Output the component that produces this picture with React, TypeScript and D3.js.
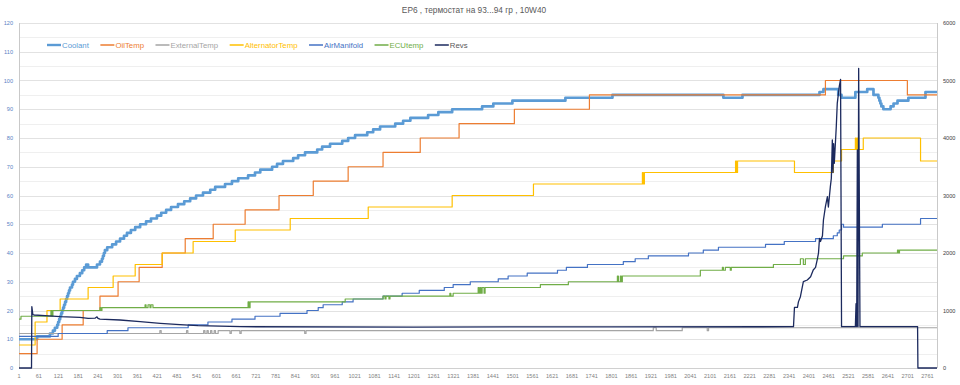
import { useEffect, useRef } from 'react'
import * as d3 from 'd3'

type Point = [number, number]

const WIDTH = 960
const HEIGHT = 385
const PLOT = { left: 19, right: 937, top: 23, bottom: 368 }
const SAMPLE_COUNT = 2790

const TITLE = 'EP6 , термостат на 93...94 гр , 10W40'

const TEMP_TICKS = [0, 10, 20, 30, 40, 50, 60, 70, 80, 90, 100, 110, 120]
const TEMP_GRID = [5, 15, 25, 35, 45, 55, 65, 75, 85, 95, 105, 115]
const REV_TICKS = [0, 1000, 2000, 3000, 4000, 5000, 6000]
const SAMPLE_TICKS = [
  1, 61, 121, 181, 241, 301, 361, 421, 481, 541, 601, 661, 721, 781, 841, 901,
  961, 1021, 1081, 1141, 1201, 1261, 1321, 1381, 1441, 1501, 1561, 1621, 1681,
  1741, 1801, 1861, 1921, 1981, 2041, 2101, 2161, 2221, 2281, 2341, 2401, 2461,
  2521, 2581, 2641, 2701, 2761,
]

// step series: [sample index where the value starts, value]
const coolant: Point[] = [
  [1, 10], [56, 11], [95, 12], [104, 13], [110, 14], [117, 15], [120, 16], [123, 17],
  [126, 18], [129, 19], [132, 20], [135, 21], [138, 22], [141, 23], [144, 24], [147, 25],
  [150, 26], [153, 27], [156, 28], [162, 29], [165, 30], [171, 31], [177, 32], [186, 33],
  [193, 34], [199, 35], [205, 36], [211, 35], [238, 36], [247, 37], [253, 38], [256, 39],
  [259, 40], [262, 41], [269, 42], [284, 43], [296, 44], [308, 45], [320, 46], [329, 47],
  [341, 48], [354, 49], [369, 50], [387, 51], [402, 52], [420, 53], [433, 54], [448, 55],
  [463, 56], [484, 57], [503, 58], [521, 59], [539, 60], [560, 61], [582, 62], [597, 63],
  [627, 64], [648, 65], [667, 66], [697, 67], [718, 68], [734, 69], [770, 70], [785, 71],
  [803, 72], [834, 73], [849, 74], [870, 75], [907, 76], [922, 77], [946, 78], [983, 79],
  [1001, 80], [1022, 81], [1059, 82], [1077, 83], [1098, 84], [1144, 85], [1168, 86],
  [1190, 87], [1244, 88], [1275, 89], [1317, 90], [1408, 91], [1442, 92], [1500, 93],
  [1661, 94], [1804, 95], [2141, 94], [2199, 95], [2433, 96], [2445, 97], [2490, 95],
  [2500, 94], [2542, 96], [2578, 97], [2597, 95], [2612, 94], [2615, 93], [2618, 92],
  [2621, 91], [2627, 90], [2649, 91], [2658, 92], [2670, 93], [2703, 94], [2755, 96],
]

const oilTemp: Point[] = [
  [1, 5], [56, 10], [132, 15], [196, 20], [247, 25], [302, 30], [366, 35], [436, 40],
  [506, 45], [591, 50], [688, 55], [791, 60], [895, 65], [1001, 70], [1107, 75],
  [1220, 80], [1338, 85], [1506, 90], [1734, 95], [2451, 100], [2700, 95],
]

const externalTemp: Point[] = [
  [1, 12], [429, 13], [433, 12], [510, 13], [514, 12], [562, 13], [566, 12], [572, 13],
  [576, 12], [583, 13], [587, 12], [594, 13], [598, 12], [606, 13], [642, 12], [646, 13],
  [672, 12], [676, 13], [869, 12], [873, 13], [1928, 14], [1937, 13], [2016, 14],
  [2092, 13], [2096, 14],
]

const alternatorTemp: Point[] = [
  [1, 8], [50, 16], [86, 20], [126, 24], [211, 28], [287, 32], [354, 36], [436, 40],
  [530, 44], [658, 48], [825, 52], [1062, 56], [1317, 60], [1564, 64], [1895, 68],
  [1898, 64], [1901, 68], [2178, 72], [2181, 68], [2184, 72], [2357, 68], [2475, 72],
  [2500, 76], [2542, 80], [2545, 76], [2548, 80], [2551, 76], [2566, 80], [2740, 72],
]

const airManifold: Point[] = [
  [1, 11], [120, 12], [269, 13], [332, 14], [515, 15], [575, 16], [648, 17], [718, 18],
  [794, 19], [876, 20], [910, 21], [925, 22], [983, 23], [1016, 24], [1107, 25],
  [1165, 26], [1217, 27], [1293, 28], [1320, 29], [1372, 30], [1457, 31], [1487, 32],
  [1545, 33], [1637, 34], [1664, 35], [1728, 36], [1837, 37], [1873, 38], [1913, 39],
  [2035, 40], [2080, 41], [2126, 42], [2269, 43], [2326, 44], [2421, 45], [2475, 46],
  [2487, 47], [2493, 48], [2500, 50], [2506, 49], [2624, 50], [2740, 52],
]

const ecuTemp: Point[] = [
  [1, 17], [7, 18], [98, 20], [101, 18], [104, 20], [247, 21], [250, 20], [253, 21],
  [384, 22], [387, 21], [393, 22], [399, 21], [402, 22], [408, 21], [697, 23], [700, 21],
  [703, 23], [992, 24], [1107, 25], [1113, 24], [1116, 25], [1125, 24], [1128, 25],
  [1310, 26], [1313, 25], [1320, 26], [1396, 28], [1399, 26], [1402, 28], [1405, 26],
  [1408, 28], [1414, 26], [1417, 28], [1585, 29], [1670, 30], [1819, 32], [1822, 30],
  [1828, 32], [1831, 30], [1834, 32], [2071, 34], [2138, 35], [2141, 34], [2147, 35],
  [2162, 34], [2165, 35], [2293, 36], [2375, 38], [2384, 36], [2390, 38], [2506, 39],
  [2563, 40], [2670, 41], [2673, 40], [2676, 41],
]

// revs: [sample index, rpm] joined point to point
const revs: Point[] = [
  [1, 0], [39, 0], [40, 1067], [43, 930], [47, 922], [80, 912], [126, 892], [186, 880],
  [211, 864], [232, 866], [238, 890], [241, 862], [247, 850], [308, 835], [369, 806],
  [430, 777], [490, 754], [545, 736], [673, 718], [1200, 712], [1800, 716], [2354, 718],
  [2357, 1055], [2366, 1055], [2369, 1150], [2375, 1240], [2384, 1501], [2396, 1530],
  [2406, 1588], [2414, 1704], [2421, 1750], [2427, 1907], [2430, 2000], [2433, 2255],
  [2436, 2200], [2442, 2300], [2445, 2574], [2451, 2806], [2457, 2980], [2460, 2800],
  [2466, 3154], [2469, 3300], [2472, 3965], [2474, 3400], [2476, 3900], [2478, 3560],
  [2484, 4197], [2487, 4603], [2493, 4893], [2497, 5020], [2500, 718], [2542, 718],
  [2544, 1117], [2546, 718], [2548, 3791], [2550, 718], [2552, 5212], [2556, 718],
  [2731, 718], [2732, 0], [2790, 0],
]

interface SeriesDef {
  name: string
  data: Point[]
  color: string
  width: number
  axis: 'temp' | 'revs'
  step: boolean
}

const SERIES: SeriesDef[] = [
  { name: 'Coolant', data: coolant, color: '#5b9bd5', width: 2.7, axis: 'temp', step: true },
  { name: 'OilTemp', data: oilTemp, color: '#ed7d31', width: 1.2, axis: 'temp', step: true },
  { name: 'ExternalTemp', data: externalTemp, color: '#a5a5a5', width: 1.2, axis: 'temp', step: true },
  { name: 'AlternatorTemp', data: alternatorTemp, color: '#ffc000', width: 1.2, axis: 'temp', step: true },
  { name: 'AirManifold', data: airManifold, color: '#4472c4', width: 1.2, axis: 'temp', step: true },
  { name: 'ECUtemp', data: ecuTemp, color: '#70ad47', width: 1.2, axis: 'temp', step: true },
  { name: 'Revs', data: revs, color: '#1c2a5e', width: 1.3, axis: 'revs', step: false },
]

const FONT = '"Liberation Sans", Arial, sans-serif'

export default function App() {
  const svgRef = useRef<SVGSVGElement | null>(null)

  useEffect(() => {
    if (!svgRef.current) {
      return
    }

    const svg = d3.select(svgRef.current)
    svg.selectAll('*').remove()

    const x = d3.scaleLinear().domain([1, SAMPLE_COUNT]).range([PLOT.left, PLOT.right])
    const yTemp = d3.scaleLinear().domain([0, 120]).range([PLOT.bottom, PLOT.top])
    const yRevs = d3.scaleLinear().domain([0, 6000]).range([PLOT.bottom, PLOT.top])

    svg.append('rect').attr('width', WIDTH).attr('height', HEIGHT).attr('fill', '#ffffff')

    // gridlines
    svg
      .append('g')
      .selectAll('line.minor')
      .data(TEMP_GRID)
      .enter()
      .append('line')
      .attr('x1', PLOT.left)
      .attr('x2', PLOT.right)
      .attr('y1', (d: number) => Math.round(yTemp(d)) + 0.5)
      .attr('y2', (d: number) => Math.round(yTemp(d)) + 0.5)
      .attr('stroke', '#efefef')

    svg
      .append('g')
      .selectAll('line.major')
      .data(TEMP_TICKS.filter((d) => d > 0))
      .enter()
      .append('line')
      .attr('x1', PLOT.left)
      .attr('x2', PLOT.right)
      .attr('y1', (d: number) => Math.round(yTemp(d)) + 0.5)
      .attr('y2', (d: number) => Math.round(yTemp(d)) + 0.5)
      .attr('stroke', '#e2e2e2')

    // axis lines
    svg
      .append('line')
      .attr('x1', PLOT.left + 0.5)
      .attr('x2', PLOT.left + 0.5)
      .attr('y1', PLOT.top)
      .attr('y2', PLOT.bottom)
      .attr('stroke', '#c9c9c9')
    svg
      .append('line')
      .attr('x1', PLOT.right + 0.5)
      .attr('x2', PLOT.right + 0.5)
      .attr('y1', PLOT.top)
      .attr('y2', PLOT.bottom)
      .attr('stroke', '#c9c9c9')
    svg
      .append('line')
      .attr('x1', PLOT.left)
      .attr('x2', PLOT.right)
      .attr('y1', PLOT.bottom + 0.5)
      .attr('y2', PLOT.bottom + 0.5)
      .attr('stroke', '#d0d0d0')

    // tick labels
    svg
      .append('g')
      .selectAll('text')
      .data(TEMP_TICKS)
      .enter()
      .append('text')
      .attr('x', PLOT.left - 6)
      .attr('y', (d: number) => yTemp(d) + 2)
      .attr('text-anchor', 'end')
      .attr('font-family', FONT)
      .attr('font-size', 5.6)
      .attr('fill', '#5b7fc4')
      .text((d: number) => d)

    svg
      .append('g')
      .selectAll('text')
      .data(REV_TICKS)
      .enter()
      .append('text')
      .attr('x', PLOT.right + 6)
      .attr('y', (d: number) => yRevs(d) + 2)
      .attr('font-family', FONT)
      .attr('font-size', 5.6)
      .attr('fill', '#404040')
      .text((d: number) => d)

    svg
      .append('g')
      .selectAll('text')
      .data(SAMPLE_TICKS)
      .enter()
      .append('text')
      .attr('x', (d: number) => x(d))
      .attr('y', PLOT.bottom + 10)
      .attr('text-anchor', 'middle')
      .attr('font-family', FONT)
      .attr('font-size', 5.6)
      .attr('fill', '#7f7f7f')
      .text((d: number) => d)

    // series
    const seriesGroup = svg.append('g').attr('fill', 'none')
    SERIES.forEach((series) => {
      const yScale = series.axis === 'temp' ? yTemp : yRevs
      const line = d3
        .line<Point>()
        .x((d) => x(d[0]))
        .y((d) => yScale(d[1]))
        .curve(series.step ? d3.curveStepAfter : d3.curveLinear)
      const points = series.step
        ? [...series.data, [SAMPLE_COUNT, series.data[series.data.length - 1][1]] as Point]
        : series.data

      seriesGroup
        .append('path')
        .attr('d', line(points))
        .attr('stroke', series.color)
        .attr('stroke-width', series.width)
        .attr('stroke-linejoin', 'round')
    })

    // title
    svg
      .append('text')
      .attr('x', 474)
      .attr('y', 13)
      .attr('text-anchor', 'middle')
      .attr('font-family', FONT)
      .attr('font-size', 8.3)
      .attr('fill', '#595959')
      .text(TITLE)

    // legend
    const legend = svg.append('g').attr('transform', 'translate(47, 45)')
    let cursor = 0
    SERIES.forEach((series) => {
      const item = legend.append('g').attr('transform', `translate(${cursor}, 0)`)
      item
        .append('line')
        .attr('x1', 0)
        .attr('x2', 14)
        .attr('y1', 0)
        .attr('y2', 0)
        .attr('stroke', series.color)
        .attr('stroke-width', series.name === 'Coolant' ? 2.4 : 1.5)
      const label = item
        .append('text')
        .attr('x', 15)
        .attr('y', 2.7)
        .attr('font-family', FONT)
        .attr('font-size', 7.8)
        .attr('fill', series.name === 'Revs' ? '#595959' : series.color)
        .text(series.name)
      const node = label.node() as SVGTextElement | null
      const textWidth = node ? node.getComputedTextLength() : series.name.length * 4
      cursor += 15 + textWidth + 11.5
    })
  }, [])

  return (
    <svg
      ref={svgRef}
      width={WIDTH}
      height={HEIGHT}
      style={{ position: 'absolute', left: 0, top: 0 }}
      role="img"
      aria-label="EP6 engine warm-up temperatures and revs"
    />
  )
}
